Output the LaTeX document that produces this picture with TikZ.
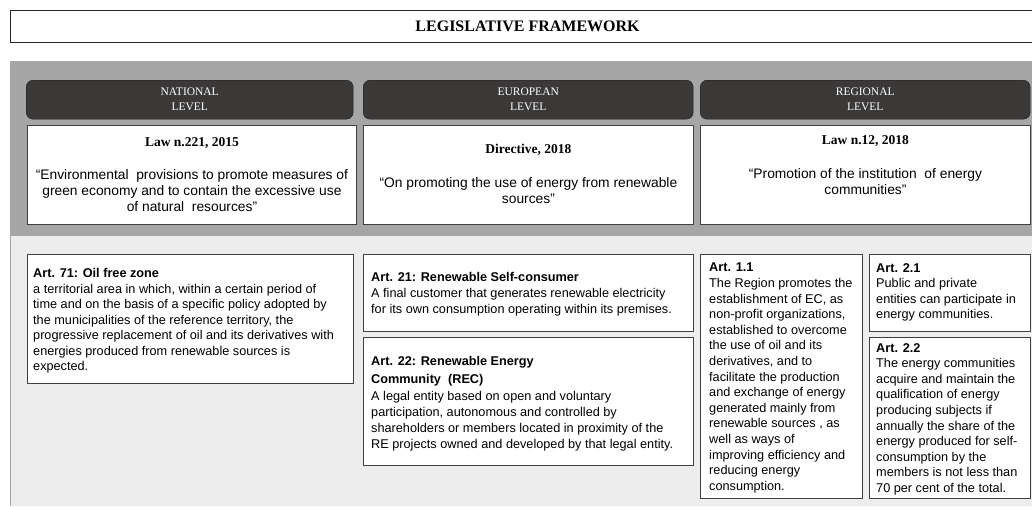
\documentclass[tikz,border=0pt]{standalone}
\usepackage{fontspec}
\setmainfont{Liberation Serif}
\setsansfont{Liberation Sans}
\usetikzlibrary{positioning}
\definecolor{bandgray}{HTML}{A6A6A6}
\definecolor{paleback}{HTML}{EDEDED}
\definecolor{headfill}{HTML}{3B3838}
\definecolor{boxline}{HTML}{404040}

\begin{document}
\begin{tikzpicture}[
          x = 1pt, y = -1pt,
          framebox/.style = {draw = black!85, line width = 1.1pt, fill = white, anchor = north west,
                             inner sep = 0pt, font = \bfseries\fontsize{16}{18}\selectfont},
          levelbox/.style = {draw = black!90, fill = headfill, rounded corners = 7pt, anchor = north west,
                             minimum height = 39pt, text = white, align = center, inner sep = 0pt,
                             font = \fontsize{11.5}{15}\selectfont},
          lawbox/.style = {draw = boxline, line width = 0.9pt, fill = white, anchor = north west,
                           minimum height = 99pt, inner sep = 0pt},
          lawtitle/.style = {inner sep = 0pt, font = \bfseries\fontsize{13.5}{15}\selectfont},
          lawtext/.style = {inner sep = 0pt, align = center, font = \sffamily\fontsize{13.8}{16}\selectfont},
          artbox/.style = {draw = boxline, line width = 0.9pt, fill = white, anchor = north west, inner sep = 0pt},
          arttext/.style = {inner sep = 0pt, anchor = north west, align = left,
                            font = \sffamily\fontsize{12.7}{#1}\selectfont},
        ]
          \useasboundingbox (0,0) rectangle (1032,506);
          \fill[bandgray] (10,61) rectangle (1032,236);
          \fill[paleback] (10,236) rectangle (1032,506);
          \draw[black!35, line width = 1pt] (10,236) -- (10,506);

          \node[framebox, minimum width = 1034pt, minimum height = 32pt] (frame) at (10,10) {LEGISLATIVE FRAMEWORK};

          \node[levelbox, minimum width = 327pt] (natlevel) at (26,80) {NATIONAL\\LEVEL};
          \node[levelbox, minimum width = 330pt] (eurlevel) at (363,80) {EUROPEAN\\LEVEL};
          \node[levelbox, minimum width = 330pt] (reglevel) at (700,80) {REGIONAL\\LEVEL};

          \node[lawbox, minimum width = 329pt] (natlaw) at (27,125) {};
          \node[lawbox, minimum width = 330pt] (eurlaw) at (363,125) {};
          \node[lawbox, minimum width = 330pt] (reglaw) at (700,125) {};
          \node[lawtitle, below = 12pt of natlaw.north] (natlawtitle) {Law n.221, 2015};
          \node[lawtext, below = 21pt of natlawtitle] (natlawtext) {“Environmental\ \ provisions to promote measures of\\
            green economy and to contain the excessive use\\ of natural\ \ resources"};
          \node[lawtitle, below = 19pt of eurlaw.north] (eurlawtitle) {Directive, 2018};
          \node[lawtext, below = 21pt of eurlawtitle] (eurlawtext) {“On promoting the use of energy from renewable\\ sources"};
          \node[lawtitle, below = 10.5pt of reglaw.north] (reglawtitle) {Law n.12, 2018};
          \node[lawtext, below = 21pt of reglawtitle] (reglawtext) {“Promotion of the institution\ \ of energy\\ communities"};

          \node[artbox, minimum width = 326pt, minimum height = 129pt] (art71) at (27,254) {};
          \node[arttext = 15.5, below right = 14.5pt and 6pt of art71.north west] (art71text) {\textbf{Art. 71: Oil free zone}\\
            a territorial area in which, within a certain period of\\
            time and on the basis of a specific policy adopted by\\
            the municipalities of the reference territory, the\\
            progressive replacement of oil and its derivatives with\\
            energies produced from renewable sources is\\
            expected.};

          \node[artbox, minimum width = 330pt, minimum height = 77pt] (art21) at (363,254) {};
          \node[arttext = 16, below right = 18pt and 8pt of art21.north west] (art21text) {\textbf{Art. 21: Renewable Self-consumer}\\
            A final customer that generates renewable electricity\\
            for its own consumption operating within its premises.};

          \node[artbox, minimum width = 330pt, minimum height = 128pt] (art22) at (363,337) {};
          \node[arttext = 16, below right = 19pt and 8pt of art22.north west] (art22text) {\textbf{Art. 22: Renewable Energy}\\[2pt]
            \textbf{Community\ \ (REC)}\\[1pt]
            A legal entity based on open and voluntary\\
            participation, autonomous and controlled by\\
            shareholders or members located in proximity of the\\
            RE projects owned and developed by that legal entity.};

          \node[artbox, minimum width = 162pt, minimum height = 244pt] (art11) at (700,254) {};
          \node[arttext = 15.6, below right = 9pt and 9pt of art11.north west] (art11text) {\textbf{Art. 1.1}\\
            The Region promotes the\\
            establishment of EC, as\\
            non-profit organizations,\\
            established to overcome\\
            the use of oil and its\\
            derivatives, and to\\
            facilitate the production\\
            and exchange of energy\\
            generated mainly from\\
            renewable sources , as\\
            well as ways of\\
            improving efficiency and\\
            reducing energy\\
            consumption.};

          \node[artbox, minimum width = 161pt, minimum height = 77pt] (art21reg) at (869,254) {};
          \node[arttext = 15.6, below right = 9pt and 7pt of art21reg.north west] (art21regtext) {\textbf{Art. 2.1}\\
            Public and private\\
            entities can participate in\\
            energy communities.};

          \node[artbox, minimum width = 161pt, minimum height = 161pt] (art22reg) at (869,337) {};
          \node[arttext = 15.6, below right = 6pt and 7pt of art22reg.north west] (art22regtext) {\textbf{Art. 2.2}\\
            The energy communities\\
            acquire and maintain the\\
            qualification of energy\\
            producing subjects if\\
            annually the share of the\\
            energy produced for self-\\
            consumption by the\\
            members is not less than\\
            70 per cent of the total.};
        \end{tikzpicture}
\end{document}
